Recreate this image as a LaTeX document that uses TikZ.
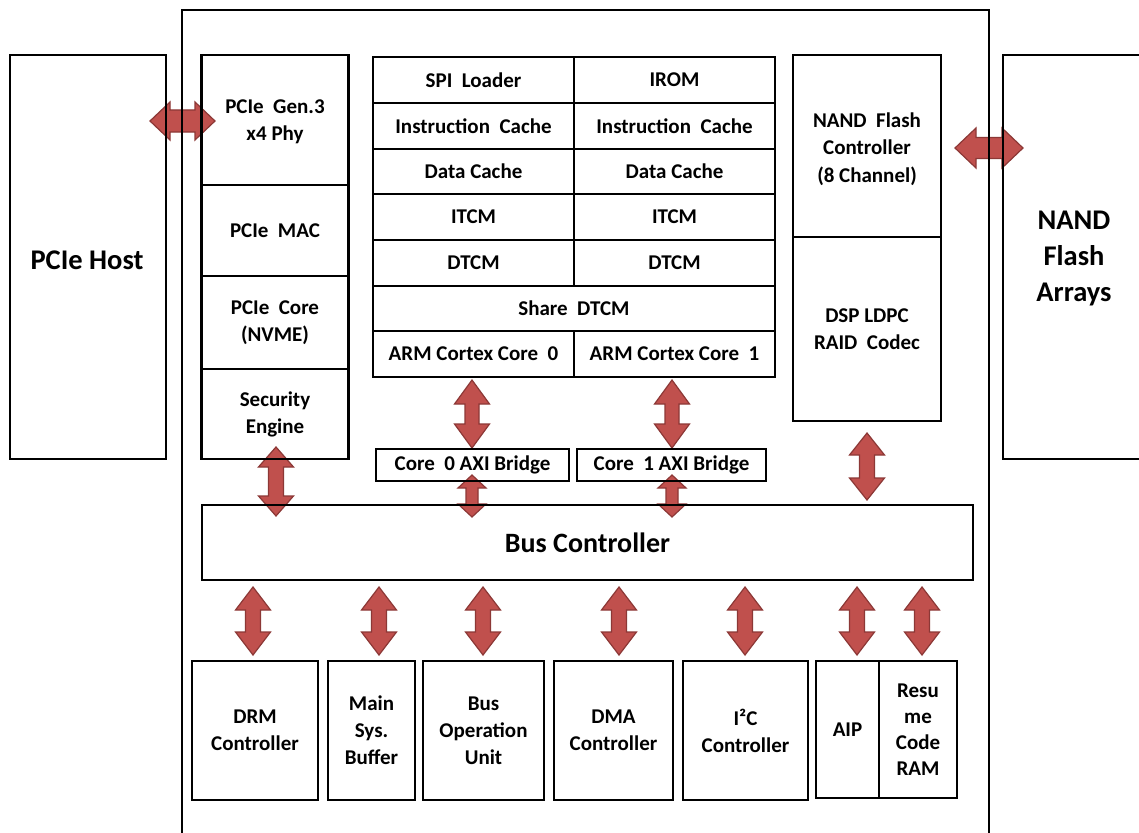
\documentclass[tikz,border=0pt]{standalone}
\usepackage{fontspec}
\setmainfont{Carlito}
\definecolor{arrfill}{RGB}{192,80,77}
\definecolor{arrdraw}{RGB}{140,56,54}
\newcommand\vdarrow[6]{% cx, ytop, ybot, hw, sw, hl
  \draw[blockarrow] (#1,#2) -- (#1+#4,#2+#6) -- (#1+#5,#2+#6) -- (#1+#5,#3-#6) -- (#1+#4,#3-#6) -- (#1,#3) -- (#1-#4,#3-#6) -- (#1-#5,#3-#6) -- (#1-#5,#2+#6) -- (#1-#4,#2+#6) -- cycle;}
\newcommand\hdarrow[6]{% cy, xleft, xright, hh, sh, hl
  \draw[blockarrow] (#2,#1) -- (#2+#6,#1-#4) -- (#2+#6,#1-#5) -- (#3-#6,#1-#5) -- (#3-#6,#1-#4) -- (#3,#1) -- (#3-#6,#1+#4) -- (#3-#6,#1+#5) -- (#2+#6,#1+#5) -- (#2+#6,#1+#4) -- cycle;}
\tikzset{
  blockarrow/.style={fill=arrfill, draw=arrdraw, line width=1.2pt, line join=miter},
  box/.style={draw, line width=2.8pt, inner sep=0pt, align=center,
    font=\bfseries\fontsize{21}{27}\selectfont},
  cell/.style={draw, line width=1.4pt, inner sep=0pt, align=center,
    minimum height=46pt, font=\bfseries\fontsize{21}{27}\selectfont},
  bigtext/.style={font=\bfseries\fontsize{28.5}{36}\selectfont, align=center},
}
\begin{document}
\begin{tikzpicture}[x=1pt,y=-1pt]
\useasboundingbox (0,0) rectangle (1139,832);
\fill[white] (0,0) rectangle (1139,832);

% block arrows (drawn first, box lines on top)
\hdarrow{121}{150}{215}{19}{11}{20}
\hdarrow{148}{955}{1023}{20}{10.5}{21}
\vdarrow{276}{447}{516}{17.5}{7.5}{20}
\vdarrow{472}{380}{448}{17.5}{7}{24}
\vdarrow{672}{380}{448}{17.5}{7}{24}
\vdarrow{472}{475}{517}{14}{6}{13}
\vdarrow{672}{475}{517}{14}{6}{13}
\vdarrow{867}{433}{500}{17.5}{7.5}{22}
\vdarrow{253}{587}{655}{17.5}{7.5}{23}
\vdarrow{379}{587}{655}{17.5}{7.5}{23}
\vdarrow{483}{587}{655}{17.5}{7.5}{23}
\vdarrow{619}{587}{655}{17.5}{7.5}{23}
\vdarrow{745}{587}{655}{17.5}{7.5}{23}
\vdarrow{857}{587}{655}{17.5}{7.5}{23}
\vdarrow{922}{587}{655}{17.5}{7.5}{23}

% outer chip
\node[box, minimum width=807pt, minimum height=850pt] (chip) at (585.5,435) {};

% host and flash arrays
\node[box, minimum width=156pt, minimum height=404pt] (host) at (88,257) {};
\node[bigtext] (hostt) at (87,260) {PCIe Host};
\node[box, minimum width=144pt, minimum height=404pt] (flash) at (1075,257) {};
\node[bigtext] (flasht) at (1074,258) {NAND\\Flash\\Arrays};

% left column
\node[box, minimum width=147pt, minimum height=130pt] (phy) at (275,120) {};
\node[font=\bfseries\fontsize{21}{27}\selectfont, align=center] (phyt) at (275,122) {PCIe~ Gen.3\\x4 Phy};
\node[box, minimum width=147pt, minimum height=91pt] (mac) at (275,230.5) {PCIe~ MAC};
\node[box, minimum width=147pt, minimum height=93pt] (core) at (275,322.5) {PCIe~ Core\\(NVME)};
\node[box, minimum width=147pt, minimum height=90pt] (sec) at (275,414) {Security\\Engine};

% center table
\node[cell, minimum width=201pt] (spi) at (473.5,80) {SPI~ Loader};
\node[cell, minimum width=201pt] (irom) at (674.5,80) {IROM};
\node[cell, minimum width=201pt] (ic0) at (473.5,126) {Instruction~ Cache};
\node[cell, minimum width=201pt] (ic1) at (674.5,126) {Instruction~ Cache};
\node[cell, minimum width=201pt, minimum height=45pt] (dc0) at (473.5,171.5) {Data Cache};
\node[cell, minimum width=201pt, minimum height=45pt] (dc1) at (674.5,171.5) {Data Cache};
\node[cell, minimum width=201pt] (it0) at (473.5,217) {ITCM};
\node[cell, minimum width=201pt] (it1) at (674.5,217) {ITCM};
\node[cell, minimum width=201pt] (dt0) at (473.5,263) {DTCM};
\node[cell, minimum width=201pt] (dt1) at (674.5,263) {DTCM};
\node[cell, minimum width=402pt, minimum height=45pt] (sdt) at (574,308.5) {Share~ DTCM};
\node[cell, minimum width=201pt] (arm0) at (473.5,354) {ARM Cortex Core~ 0};
\node[cell, minimum width=201pt] (arm1) at (674.5,354) {ARM Cortex Core~ 1};

% AXI bridges
\node[box, minimum width=193pt, minimum height=32pt] (axi0) at (472.5,465) {Core~ 0 AXI Bridge};
\node[box, minimum width=189pt, minimum height=32pt] (axi1) at (671.5,465) {Core~ 1 AXI Bridge};

% right column
\node[box, minimum width=148pt, minimum height=182pt] (nfc) at (867,146) {};
\node[font=\bfseries\fontsize{21}{27.5}\selectfont, align=center] (nfct) at (867,149) {NAND~ Flash\\Controller\\(8 Channel)};
\node[box, minimum width=148pt, minimum height=184pt] (dsp) at (867,329) {DSP LDPC\\RAID~ Codec};

% bus controller
\node[box, minimum width=771pt, minimum height=75pt, font=\bfseries\fontsize{28}{30}\selectfont] (bus) at (587.5,542.5) {Bus Controller};

% bottom row
\node[box, minimum width=126pt, minimum height=139pt] (drm) at (255,730.5) {DRM\\Controller};
\node[box, minimum width=87pt, minimum height=139pt] (msb) at (371.5,730.5) {Main\\Sys.\\Buffer};
\node[box, minimum width=121pt, minimum height=139pt] (bou) at (483.5,730.5) {Bus\\Operation\\Unit};
\node[box, minimum width=119pt, minimum height=139pt] (dma) at (613.5,730.5) {DMA\\Controller};
\node[box, minimum width=125pt, minimum height=139pt] (i2c) at (745.5,730.5) {I²C\\Controller};
\node[box, minimum width=63pt, minimum height=137pt] (aip) at (847.5,729.5) {AIP};
\node[box, minimum width=78pt, minimum height=137pt, font=\bfseries\fontsize{21}{26}\selectfont] (ram) at (918,729.5) {Resu\\me\\Code\\RAM};
\end{tikzpicture}
\end{document}
